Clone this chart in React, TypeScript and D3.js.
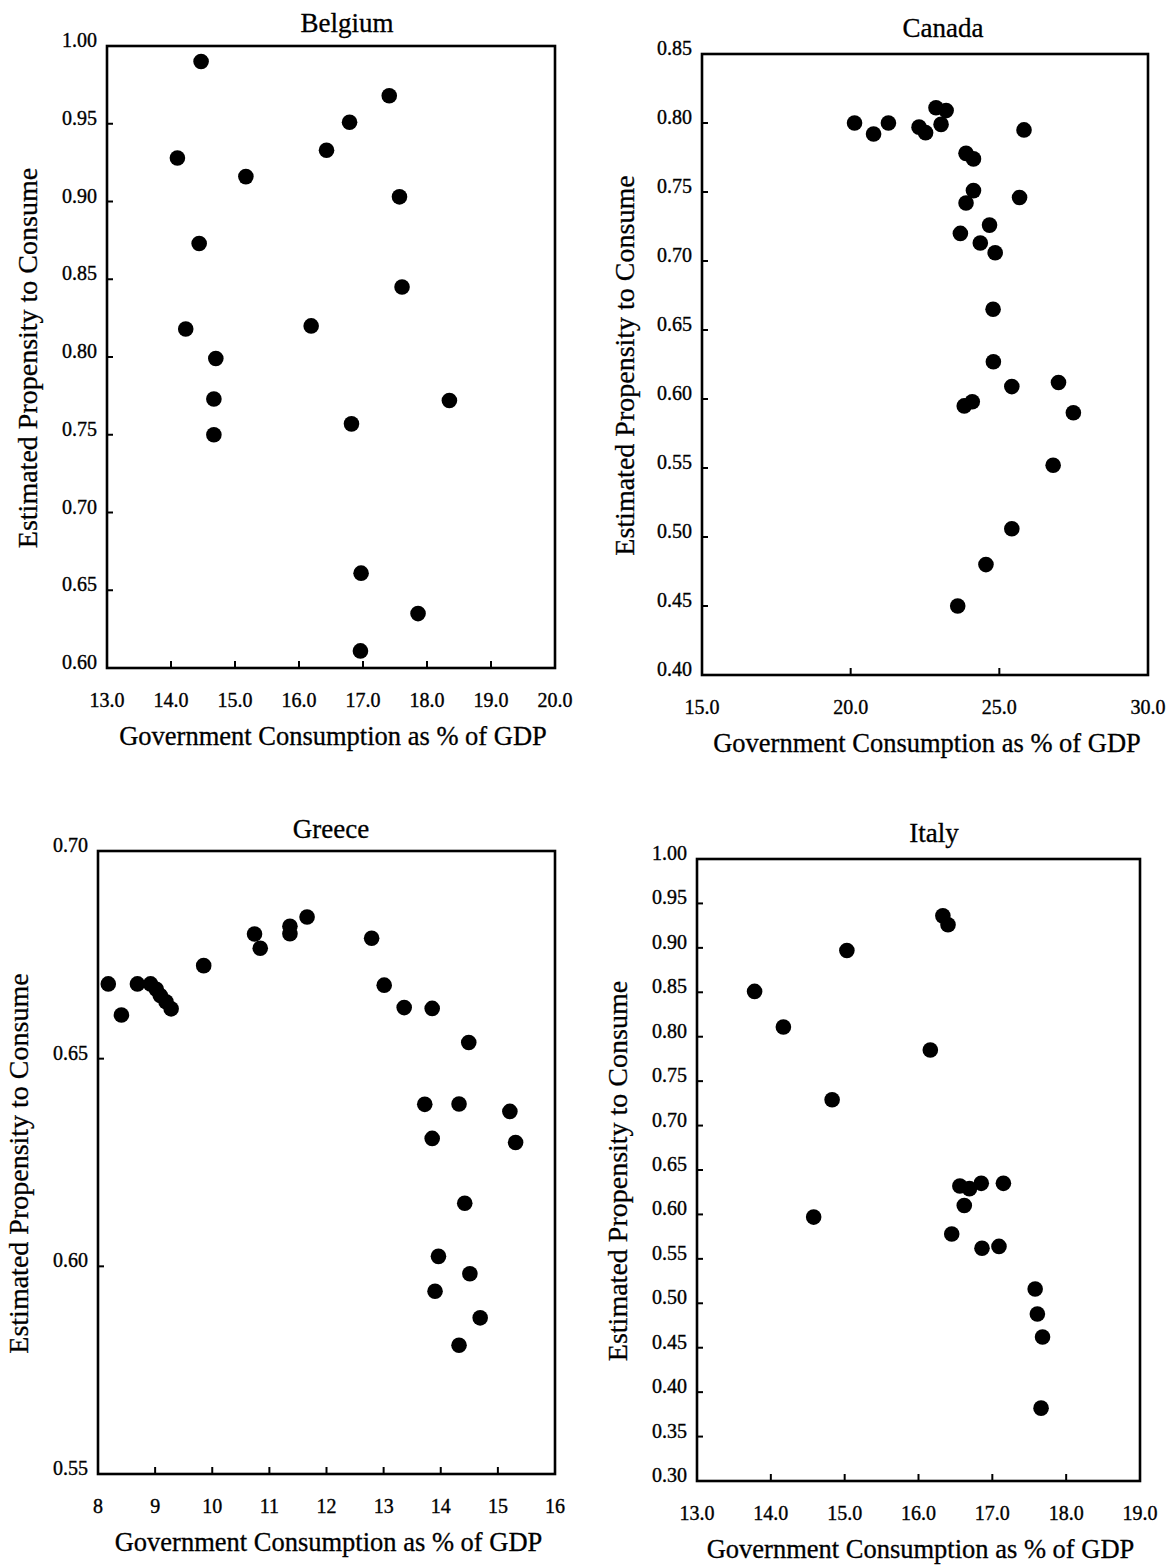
import React from "react";
import * as d3 from "d3";

// values
const belgiumGov = [14.47, 17.41, 16.79, 16.43, 14.1, 15.17, 17.57, 14.44, 17.61, 14.23, 16.19, 14.7, 14.67, 14.67, 18.35, 16.82, 16.97, 17.86, 16.96];
const belgiumMpc = [0.99, 0.968, 0.951, 0.933, 0.928, 0.916, 0.903, 0.873, 0.845, 0.818, 0.82, 0.799, 0.773, 0.75, 0.772, 0.757, 0.661, 0.635, 0.611];

const canadaGov = [20.13, 20.77, 21.27, 22.3, 22.52, 22.87, 23.21, 23.04, 25.83, 23.88, 24.13, 24.13, 23.88, 25.68, 23.69, 24.67, 24.36, 24.86, 24.79, 24.8, 26.99, 25.42, 23.82, 24.09, 27.49, 26.81, 25.42, 24.55, 23.6];
const canadaMpc = [0.8, 0.792, 0.8, 0.797, 0.793, 0.811, 0.809, 0.799, 0.795, 0.778, 0.774, 0.751, 0.742, 0.746, 0.72, 0.726, 0.713, 0.706, 0.665, 0.627, 0.612, 0.609, 0.595, 0.598, 0.59, 0.552, 0.506, 0.48, 0.45];

const greeceGov = [8.18, 8.41, 8.69, 8.92, 9.02, 9.09, 9.19, 9.28, 9.85, 10.74, 10.84, 11.36, 11.36, 11.66, 12.79, 13.01, 13.36, 13.85, 14.49, 13.72, 14.32, 15.21, 13.85, 15.31, 14.42, 13.96, 14.51, 13.9, 14.69, 14.32];
const greeceMpc = [0.668, 0.6605, 0.668, 0.668, 0.6667, 0.6652, 0.6637, 0.662, 0.6724, 0.68, 0.6766, 0.6819, 0.6801, 0.6841, 0.679, 0.6677, 0.6623, 0.6621, 0.6539, 0.639, 0.6391, 0.6373, 0.6308, 0.6298, 0.6152, 0.6024, 0.5982, 0.594, 0.5876, 0.581];

const italyGov = [16.33, 16.4, 15.03, 13.78, 14.17, 16.16, 14.83, 14.58, 16.56, 16.69, 16.85, 17.15, 16.62, 16.45, 16.86, 17.09, 17.58, 17.61, 17.68, 17.66];
const italyMpc = [0.936, 0.926, 0.897, 0.851, 0.811, 0.785, 0.729, 0.597, 0.632, 0.629, 0.635, 0.635, 0.61, 0.578, 0.562, 0.564, 0.516, 0.488, 0.462, 0.382];

// tick labels
const belgiumXTicks = [13, 14, 15, 16, 17, 18, 19, 20];
const belgiumYTicks = [0.6, 0.65, 0.7, 0.75, 0.8, 0.85, 0.9, 0.95, 1.0];
const canadaXTicks = [15, 20, 25, 30];
const canadaYTicks = [0.4, 0.45, 0.5, 0.55, 0.6, 0.65, 0.7, 0.75, 0.8, 0.85];
const greeceXTicks = [8, 9, 10, 11, 12, 13, 14, 15, 16];
const greeceYTicks = [0.55, 0.6, 0.65, 0.7];
const italyXTicks = [13, 14, 15, 16, 17, 18, 19];
const italyYTicks = [0.3, 0.35, 0.4, 0.45, 0.5, 0.55, 0.6, 0.65, 0.7, 0.75, 0.8, 0.85, 0.9, 0.95, 1.0];

const xTitle = "Government Consumption as % of GDP";
const yTitle = "Estimated Propensity to Consume";
const font = "'Liberation Serif', 'Times New Roman', serif";

const Panel = ({ title, gov, mpc, xTicks, yTicks, xFmt, box, titleX, titleY, yTitleX }: any) => {
  const [left, right, top, bottom] = box;
  const x = d3.scaleLinear().domain(d3.extent(xTicks) as any).range([left, right]);
  const y = d3.scaleLinear().domain(d3.extent(yTicks) as any).range([bottom, top]);
  const fx = d3.format(xFmt);
  const fy = d3.format(".2f");
  const midX = (left + right) / 2;
  const midY = (top + bottom) / 2;

  return (
    <g fontFamily={font} fill="#000" stroke="#000" strokeWidth={0}>
      <text x={titleX} y={titleY} fontSize={27} textAnchor="middle" strokeWidth={0.3}>{title}</text>

      <rect x={left} y={top} width={right - left} height={bottom - top}
        fill="none" stroke="#000" strokeWidth={2.6} />

      {yTicks.map((t: number) => (
        <g key={"y" + t}>
          <line x1={left} x2={left + 6} y1={y(t)} y2={y(t)} stroke="#000" strokeWidth={2} />
          <text x={left - 10} y={y(t) + 1} fontSize={20} textAnchor="end" strokeWidth={0.35}>{fy(t)}</text>
        </g>
      ))}

      {xTicks.map((t: number) => (
        <g key={"x" + t}>
          <line x1={x(t)} x2={x(t)} y1={bottom} y2={bottom - 7} stroke="#000" strokeWidth={2} />
          <text x={x(t)} y={bottom + 39} fontSize={20} textAnchor="middle" strokeWidth={0.35}>{fx(t)}</text>
        </g>
      ))}

      <text x={midX + 2} y={bottom + 77} fontSize={26.5} textAnchor="middle" strokeWidth={0.3}>{xTitle}</text>
      <text transform={`translate(${yTitleX},${midY + 1}) rotate(-90)`} fontSize={28} textAnchor="middle" strokeWidth={0.3}>
        {yTitle}
      </text>

      {gov.map((g: number, i: number) => (
        <circle key={i} cx={x(g)} cy={y(mpc[i])} r={7.8} fill="#000" />
      ))}
    </g>
  );
};

function App() {
  return (
    <svg width={1171} height={1568} style={{ position: "absolute", left: 0, top: 0, background: "#fff" }}>
      <Panel title="Belgium" gov={belgiumGov} mpc={belgiumMpc} xTicks={belgiumXTicks} yTicks={belgiumYTicks}
        xFmt=".1f" box={[107, 555, 46, 668]} titleX={347} titleY={32} yTitleX={37} />
      <Panel title="Canada" gov={canadaGov} mpc={canadaMpc} xTicks={canadaXTicks} yTicks={canadaYTicks}
        xFmt=".1f" box={[702, 1148, 54, 675]} titleX={943} titleY={37} yTitleX={634} />
      <Panel title="Greece" gov={greeceGov} mpc={greeceMpc} xTicks={greeceXTicks} yTicks={greeceYTicks}
        xFmt="d" box={[98, 555, 851, 1474]} titleX={331} titleY={838} yTitleX={28} />
      <Panel title="Italy" gov={italyGov} mpc={italyMpc} xTicks={italyXTicks} yTicks={italyYTicks}
        xFmt=".1f" box={[697, 1140, 859, 1481]} titleX={934} titleY={842} yTitleX={627} />
    </svg>
  );
}

export default App;
